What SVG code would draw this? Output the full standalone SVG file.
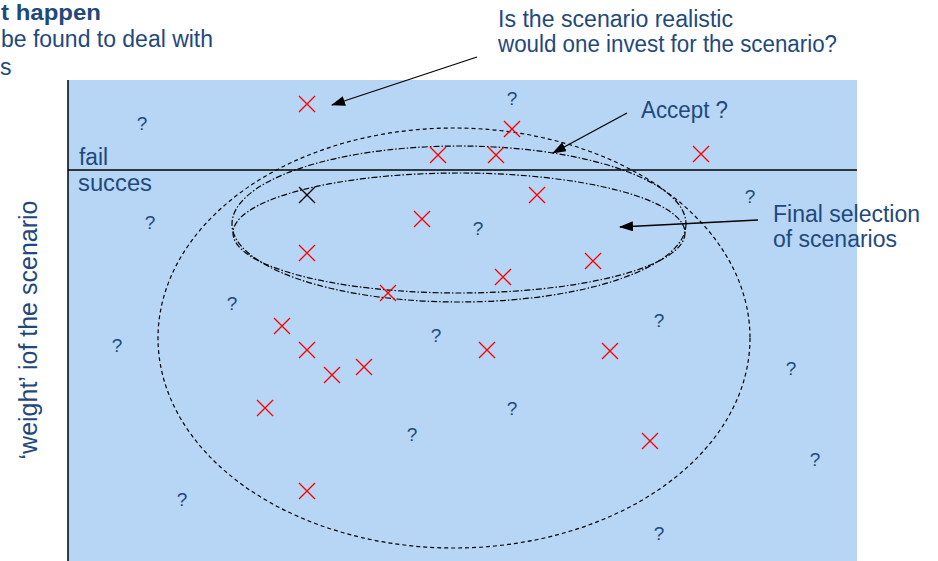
<svg xmlns="http://www.w3.org/2000/svg" width="938" height="561" viewBox="0 0 938 561">
<style>
.t{font-family:"Liberation Sans",Arial,sans-serif;fill:#1F497D;font-size:23px}
.b{font-weight:bold}
.q{font-family:"Liberation Sans",Arial,sans-serif;fill:#1F497D;font-size:19px;text-anchor:middle}
.x{stroke:#FF0000;stroke-width:1.3;fill:none}
.xk{stroke:#000;stroke-width:1.3;fill:none}
.dash{fill:none;stroke:#000;stroke-width:1.2;stroke-dasharray:4 3}
.dd{fill:none;stroke:#000;stroke-width:1.2;stroke-dasharray:6 2 1.5 2}
.arr{stroke:#000;stroke-width:1.3;fill:none;marker-end:url(#ah)}
</style>
<defs>
<marker id="ah" markerUnits="userSpaceOnUse" markerWidth="14" markerHeight="10" refX="13" refY="5" orient="auto">
<path d="M0,0 L14,5 L0,10 Z" fill="#000"/>
</marker>
<path id="cross" d="M-8,-8 L8,8 M-8,8 L8,-8"/>
</defs>
<rect id="panel" x="68" y="80" width="789" height="481" fill="#B7D6F6"/>
<line x1="68" y1="80" x2="68" y2="561" stroke="#000" stroke-width="1.5"/>
<line x1="68" y1="170" x2="857" y2="170" stroke="#000" stroke-width="1.5"/>

<g id="top-left-text">
<text class="t b" x="1" y="20" style="font-size:22px" textLength="100" lengthAdjust="spacingAndGlyphs">t happen</text>
<text class="t" x="1" y="47" textLength="212" lengthAdjust="spacingAndGlyphs">be found to deal with</text>
<text class="t" x="0" y="75">s</text>
</g>
<g id="label-realistic">
<text class="t" x="498" y="27" textLength="235" lengthAdjust="spacingAndGlyphs">Is the scenario realistic</text>
<text class="t" x="498" y="52" textLength="339" lengthAdjust="spacingAndGlyphs">would one invest for the scenario?</text>
</g>
<g id="label-accept"><text class="t" x="641" y="118" textLength="87" lengthAdjust="spacingAndGlyphs">Accept ?</text></g>
<g id="label-final">
<text class="t" x="773" y="222" textLength="147" lengthAdjust="spacingAndGlyphs">Final selection</text>
<text class="t" x="773" y="247" textLength="124" lengthAdjust="spacingAndGlyphs">of scenarios</text>
</g>
<g id="label-fail"><text class="t" x="79" y="165" textLength="29" lengthAdjust="spacingAndGlyphs">fail</text></g>
<g id="label-succes"><text class="t" x="78" y="191" textLength="74" lengthAdjust="spacingAndGlyphs">succes</text></g>
<g id="axis-label"><text class="t" style="font-size:25px" text-anchor="middle" transform="translate(37,330) rotate(-90)">‘weight’ iof the scenario</text></g>

<g id="ellipses">
<ellipse id="all-scenarios" class="dash" cx="454" cy="338" rx="296" ry="210"/>
<ellipse id="accept-set" class="dd" cx="459" cy="224" rx="227" ry="78"/>
<ellipse id="final-set" class="dd" cx="459" cy="233" rx="226" ry="60"/>
</g>

<g id="questions">
<text class="q" x="142" y="130">?</text>
<text class="q" x="512" y="105">?</text>
<text class="q" x="750" y="203">?</text>
<text class="q" x="150" y="229">?</text>
<text class="q" x="478" y="235">?</text>
<text class="q" x="232" y="310">?</text>
<text class="q" x="659" y="327">?</text>
<text class="q" x="117" y="352">?</text>
<text class="q" x="436" y="342">?</text>
<text class="q" x="791" y="375">?</text>
<text class="q" x="512" y="415">?</text>
<text class="q" x="412" y="441">?</text>
<text class="q" x="815" y="466">?</text>
<text class="q" x="182" y="506">?</text>
<text class="q" x="659" y="540">?</text>
</g>

<g id="crosses">
<use href="#cross" class="x" x="307" y="104"/>
<use href="#cross" class="x" x="512" y="129"/>
<use href="#cross" class="x" x="438" y="155"/>
<use href="#cross" class="x" x="496" y="155"/>
<use href="#cross" class="x" x="701" y="154"/>
<use href="#cross" class="xk" x="307" y="195"/>
<use href="#cross" class="x" x="537" y="195"/>
<use href="#cross" class="x" x="422" y="219"/>
<use href="#cross" class="x" x="307" y="253"/>
<use href="#cross" class="x" x="593" y="261"/>
<use href="#cross" class="x" x="503" y="277"/>
<use href="#cross" class="x" x="388" y="293"/>
<use href="#cross" class="x" x="282" y="326"/>
<use href="#cross" class="x" x="307" y="350"/>
<use href="#cross" class="x" x="487" y="350"/>
<use href="#cross" class="x" x="610" y="351"/>
<use href="#cross" class="x" x="332" y="375"/>
<use href="#cross" class="x" x="364" y="367"/>
<use href="#cross" class="x" x="265" y="408"/>
<use href="#cross" class="x" x="650" y="441"/>
<use href="#cross" class="x" x="307" y="491"/>
</g>

<g id="connectors">
<line class="arr" x1="477" y1="57" x2="332" y2="105"/>
<line class="arr" x1="627" y1="113" x2="553" y2="153"/>
<line class="arr" x1="758" y1="220" x2="620" y2="227"/>
</g>
</svg>
